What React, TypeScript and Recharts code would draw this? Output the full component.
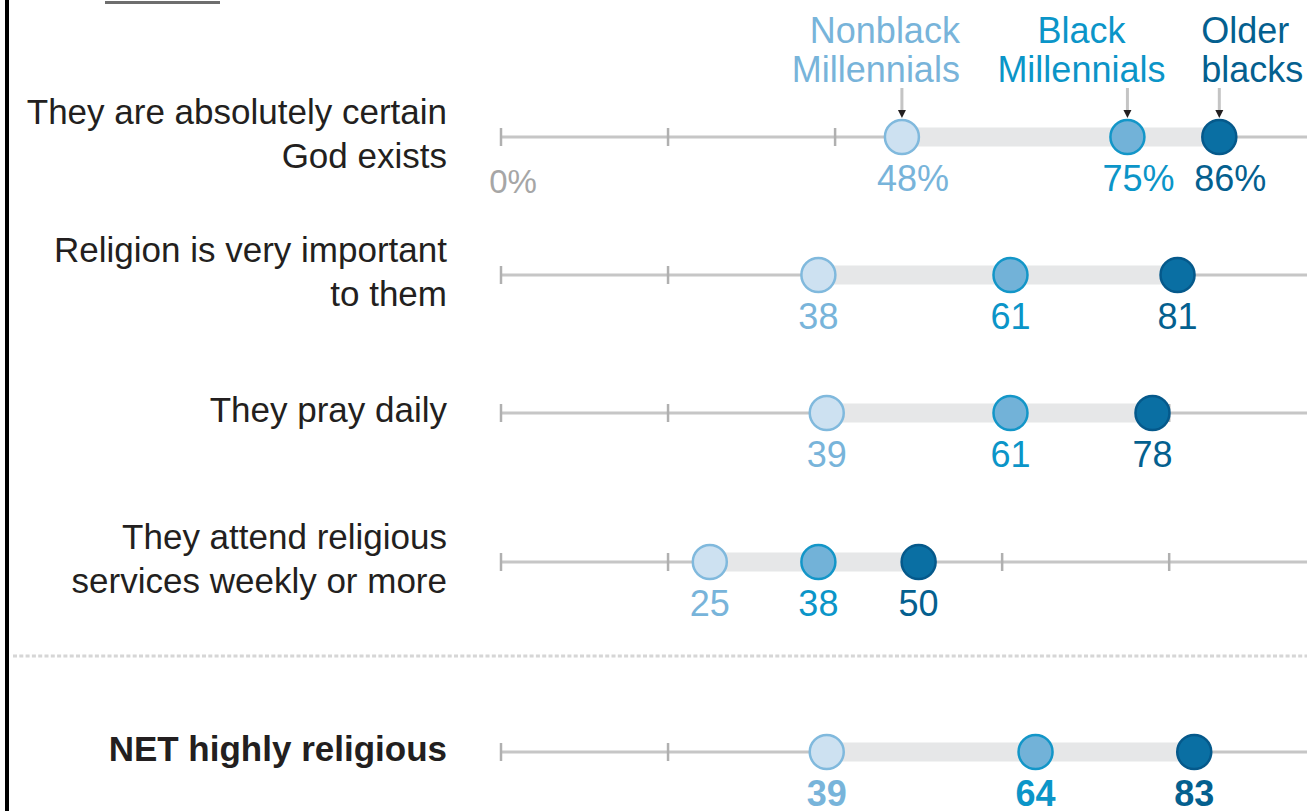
import React from "react";
import {
  ScatterChart,
  Scatter,
  XAxis,
  YAxis,
  ReferenceLine,
  ReferenceArea,
  LabelList,
} from "recharts";

const rowLabels = [
  ["They are absolutely certain", "God exists"],
  ["Religion is very important", "to them"],
  ["They pray daily"],
  ["They attend religious", "services weekly or more"],
  ["NET highly religious"],
];
const nonblackMillennials = [48, 38, 39, 25, 39];
const blackMillennials = [75, 61, 61, 38, 64];
const olderBlacks = [86, 81, 78, 50, 83];
const seriesNames = [
  ["Nonblack", "Millennials"],
  ["Black", "Millennials"],
  ["Older", "blacks"],
];
const xTicks = [0, 20, 40, 60, 80];

// layout
const W = 1307;
const H = 811;
const CHART_H = 300;
const PLOT_LEFT = 501;
const AXIS_MAX = 96.5;
const ROW_CENTERS = [137, 275, 413, 562, 752];
const FONT = "'Liberation Sans', Arial, sans-serif";

const SERIES = [
  { key: "nonblack", values: nonblackMillennials, fill: "#cde1f1", stroke: "#80b9dd", text: "#78b4da", anchor: "end", dx: 58 },
  { key: "black", values: blackMillennials, fill: "#72b2d8", stroke: "#1396c8", text: "#0b95c8", anchor: "middle", dx: -46 },
  { key: "older", values: olderBlacks, fill: "#0a6fa3", stroke: "#05598b", text: "#04608f", anchor: "start", dx: -18 },
];

function RowLabel({ x, y, lines, bold }: any) {
  const n = lines.length;
  return (
    <g>
      {lines.map((l: string, i: number) => (
        <text
          key={i}
          x={x}
          y={y - 3 + 12 + (i - (n - 1) / 2) * 44}
          textAnchor="end"
          fontFamily={FONT}
          fontSize={35}
          fontWeight={bold ? 700 : 400}
          fill="#231f20"
        >
          {l}
        </text>
      ))}
    </g>
  );
}

function Row({ index }: { index: number }) {
  const first = index === 0;
  const bold = index === rowLabels.length - 1;
  const vals = SERIES.map((s) => s.values[index]);
  const lo = Math.min(...vals);
  const hi = Math.max(...vals);

  return (
    <div style={{ position: "absolute", left: 0, top: ROW_CENTERS[index] - CHART_H / 2 }}>
      <ScatterChart width={W} height={CHART_H} margin={{ top: 0, right: 0, bottom: 0, left: 0 }}>
        <XAxis type="number" dataKey="value" domain={[0, AXIS_MAX]} hide allowDataOverflow />
        <YAxis
          type="number"
          dataKey="row"
          domain={[-1, 1]}
          ticks={[0]}
          width={PLOT_LEFT}
          axisLine={false}
          tickLine={false}
          tickSize={0}
          tickMargin={54}
          tick={(p: any) => <RowLabel x={p.x} y={p.y} lines={rowLabels[index]} bold={bold} />}
        />
        <ReferenceLine y={0} stroke="#c6c6c6" strokeWidth={3} zIndex={10} />
        {xTicks.map((t) => (
          <ReferenceLine
            key={t}
            x={t}
            zIndex={11}
            shape={(p: any) => {
              const mid = (p.y1 + p.y2) / 2;
              return (
                <g>
                  <line x1={p.x1} x2={p.x1} y1={mid - 9} y2={mid + 9} stroke="#b0b0b0" strokeWidth={2.5} />
                  {first && t === 0 && (
                    <text x={p.x1} dx={12} y={mid + 56} textAnchor="middle" fontFamily={FONT} fontSize={33} fill="#a6a6a6">
                      0%
                    </text>
                  )}
                </g>
              );
            }}
          />
        ))}
        <ReferenceArea
          x1={lo}
          x2={hi}
          zIndex={20}
          shape={(p: any) => (
            <rect x={p.x} y={p.y + p.height / 2 - 9.5} width={p.width} height={19} fill="#e6e7e8" />
          )}
        />
        {SERIES.map((s, si) => (
          <Scatter
            key={s.key}
            data={[{ value: s.values[index], row: 0 }]}
            isAnimationActive={false}
            shape={(p: any) => (
              <circle cx={p.cx} cy={p.cy} r={17} fill={s.fill} stroke={s.stroke} strokeWidth={2.5} />
            )}
          >
            <LabelList
              dataKey="value"
              content={(p: any) => {
                const cx = p.x + p.width / 2;
                const cy = p.y + p.height / 2;
                return (
                  <g>
                    <text
                      x={cx}
                      dx={first ? 11 : 0}
                      y={cy + 54}
                      textAnchor="middle"
                      fontFamily={FONT}
                      fontSize={36}
                      fontWeight={bold ? 700 : 400}
                      fill={s.text}
                    >
                      {first ? `${p.value}%` : p.value}
                    </text>
                    {first && (
                      <g>
                        <line x1={cx} x2={cx} y1={cy - 49} y2={cy - 26} stroke="#c4c4c4" strokeWidth={3} />
                        <path d={`M${cx - 4},${cy - 27} L${cx + 4},${cy - 27} L${cx},${cy - 19} Z`} fill="#231f20" />
                        {seriesNames[si].map((n, li) => (
                          <text
                            key={li}
                            x={cx + s.dx}
                            y={cy - 94 + li * 39}
                            textAnchor={s.anchor as any}
                            fontFamily={FONT}
                            fontSize={36}
                            fill={s.text}
                          >
                            {n}
                          </text>
                        ))}
                      </g>
                    )}
                  </g>
                );
              }}
            />
          </Scatter>
        ))}
      </ScatterChart>
    </div>
  );
}

export default function App() {
  return (
    <div style={{ position: "absolute", left: 0, top: 0, width: W, height: H, overflow: "hidden", background: "#fff" }}>
      {rowLabels.map((_, i) => (
        <Row key={i} index={i} />
      ))}
      <svg width={W} height={H} style={{ position: "absolute", left: 0, top: 0, pointerEvents: "none" }}>
        <rect x={5} y={0} width={4} height={H} fill="#000" />
        <rect x={105} y={1} width={115} height={3} fill="#6e6e6e" />
        <line x1={13} x2={W} y1={656} y2={656} stroke="#d6d6d6" strokeWidth={3} strokeDasharray="4 2.3" />
      </svg>
    </div>
  );
}
